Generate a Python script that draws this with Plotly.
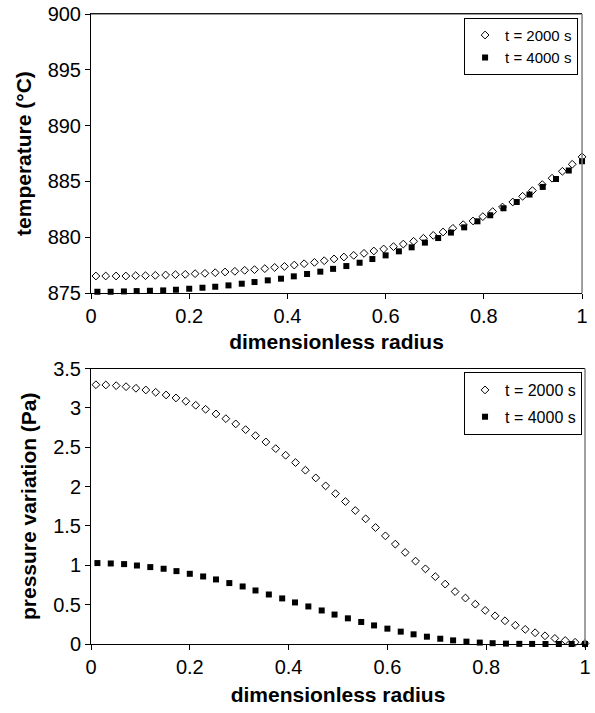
import plotly.graph_objects as go

# dimensionless radius of the grid nodes for each time
r_2000 = [0.010, 0.030, 0.051, 0.071, 0.091, 0.111, 0.131, 0.152, 0.172, 0.192,
          0.212, 0.232, 0.253, 0.273, 0.293, 0.313, 0.333, 0.354, 0.374, 0.394,
          0.414, 0.434, 0.455, 0.475, 0.495, 0.515, 0.535, 0.556, 0.576, 0.596,
          0.616, 0.636, 0.657, 0.677, 0.697, 0.717, 0.737, 0.758, 0.778, 0.798,
          0.818, 0.838, 0.859, 0.879, 0.899, 0.919, 0.939, 0.960, 0.980, 1.000]
r_4000 = [0.013, 0.040, 0.067, 0.093, 0.120, 0.147, 0.173, 0.200, 0.227, 0.253,
          0.280, 0.307, 0.333, 0.360, 0.387, 0.413, 0.440, 0.467, 0.493, 0.520,
          0.547, 0.573, 0.600, 0.627, 0.653, 0.680, 0.707, 0.733, 0.760, 0.787,
          0.813, 0.840, 0.867, 0.893, 0.920, 0.947, 0.973, 1.000]

# temperature (°C)
temp_2000 = [876.53, 876.53, 876.53, 876.53, 876.56, 876.56, 876.59, 876.62, 876.65, 876.68,
             876.74, 876.77, 876.83, 876.89, 876.95, 877.04, 877.10, 877.19, 877.30, 877.39,
             877.51, 877.63, 877.75, 877.90, 878.06, 878.23, 878.38, 878.56, 878.77, 878.95,
             879.16, 879.39, 879.64, 879.91, 880.17, 880.47, 880.80, 881.13, 881.46, 881.85,
             882.30, 882.71, 883.16, 883.67, 884.18, 884.72, 885.29, 885.91, 886.54, 887.20]
temp_4000 = [875.12, 875.12, 875.15, 875.18, 875.21, 875.24, 875.30, 875.39, 875.48, 875.57,
             875.69, 875.84, 875.99, 876.14, 876.29, 876.50, 876.71, 876.92, 877.17, 877.42,
             877.72, 878.05, 878.38, 878.74, 879.10, 879.52, 879.93, 880.42, 880.89, 881.43,
             881.97, 882.60, 883.16, 883.83, 884.51, 885.22, 885.98, 886.81]

# pressure variation (Pa)
pres_2000 = [3.294, 3.291, 3.282, 3.269, 3.249, 3.227, 3.198, 3.164, 3.126, 3.084,
             3.033, 2.982, 2.923, 2.863, 2.796, 2.723, 2.647, 2.567, 2.482, 2.398,
             2.305, 2.208, 2.110, 2.009, 1.910, 1.810, 1.696, 1.590, 1.480, 1.374,
             1.269, 1.163, 1.053, 0.955, 0.856, 0.761, 0.666, 0.584, 0.506, 0.427,
             0.358, 0.295, 0.238, 0.186, 0.143, 0.104, 0.071, 0.045, 0.022, 0.006]
pres_4000 = [1.028, 1.023, 1.015, 0.997, 0.977, 0.956, 0.926, 0.892, 0.858, 0.820,
             0.774, 0.731, 0.680, 0.629, 0.579, 0.528, 0.477, 0.426, 0.374, 0.326,
             0.280, 0.236, 0.195, 0.157, 0.123, 0.093, 0.067, 0.046, 0.030, 0.018,
             0.010, 0.005, 0.002, 0.001, 0.000, 0.000, 0.000, 0.000]

labels = ['t = 2000 s', 't = 4000 s']
FONT = 'Liberation Sans, Arial, sans-serif'

diamond = dict(symbol='diamond-open', size=6, color='black', line=dict(width=1, color='black'))
square = dict(symbol='square', size=6, color='black', line=dict(width=0))

fig = go.Figure()
fig.add_trace(go.Scatter(x=r_2000, y=temp_2000, mode='markers', marker=diamond, name=labels[0],
                         xaxis='x', yaxis='y', legend='legend', legendgroup='a', cliponaxis=False))
fig.add_trace(go.Scatter(x=r_4000, y=temp_4000, mode='markers', marker=square, name=labels[1],
                         xaxis='x', yaxis='y', legend='legend', legendgroup='b', cliponaxis=False))
fig.add_trace(go.Scatter(x=r_2000, y=pres_2000, mode='markers', marker=diamond, name=labels[0],
                         xaxis='x2', yaxis='y2', legend='legend2', legendgroup='c', cliponaxis=False))
fig.add_trace(go.Scatter(x=r_4000, y=pres_4000, mode='markers', marker=square, name=labels[1],
                         xaxis='x2', yaxis='y2', legend='legend2', legendgroup='d', cliponaxis=False))

tickfont = dict(family=FONT, size=20, color='black')
titlefont = dict(family=FONT, size=21, color='black', weight='bold')

xcommon = dict(range=[0, 1], dtick=0.2, tick0=0, ticks='outside', ticklen=5, tickcolor='black',
               showline=True, linecolor='black', linewidth=1, mirror=True, showgrid=False,
               zeroline=False, tickfont=tickfont, automargin=False, ticklabeloverflow='allow')
ycommon = dict(ticks='outside', ticklen=5, tickcolor='black', showline=True, linecolor='black',
               linewidth=1, showgrid=False, zeroline=False, tickfont=tickfont, automargin=False,
               ticklabeloverflow='allow')

legend_style = dict(bgcolor='white', bordercolor='black', borderwidth=1,
                    xanchor='right', yanchor='top', itemwidth=30)

fig.update_layout(
    width=595, height=713,
    margin=dict(l=91, r=10, t=14, b=69),
    paper_bgcolor='white', plot_bgcolor='white',
    font=dict(family=FONT, color='black'),
    xaxis=dict(xcommon, domain=[0, 0.994], anchor='y',
               title=dict(text='dimensionless radius', font=titlefont, standoff=8)),
    yaxis=dict(ycommon, domain=[0.557, 1], anchor='x', range=[875, 900], dtick=5,
               title=dict(text='temperature (°C)', font=titlefont, standoff=10)),
    xaxis2=dict(xcommon, domain=[0, 1], anchor='y2',
                title=dict(text='dimensionless radius', font=titlefont, standoff=10)),
    yaxis2=dict(ycommon, domain=[0, 0.4373], anchor='x2', range=[0, 3.5], dtick=0.5,
                title=dict(text='pressure variation (Pa)', font=titlefont, standoff=10)),
    legend=dict(legend_style, x=0.986, y=0.994, tracegroupgap=0,
                font=dict(family=FONT, size=15, color='black')),
    legend2=dict(legend_style, x=0.994, y=0.4317, tracegroupgap=3,
                 font=dict(family=FONT, size=16, color='black')),
    shapes=[
        dict(type='line', xref='x domain', yref='y domain', x0=0, x1=1, y0=1, y1=1,
             line=dict(color='#333333', width=1)),
        dict(type='line', xref='x domain', yref='y domain', x0=1, x1=1, y0=0, y1=1,
             line=dict(color='#808080', width=1.5)),
        dict(type='line', xref='x2 domain', yref='y2 domain', x0=1, x1=1, y0=0, y1=1,
             line=dict(color='#808080', width=1.5)),
    ],
)

# drop the default 8px page margin so the figure fills the window
fig.write_html("out.html", config={'displayModeBar': False},
               post_script="document.body.style.margin='0px';")
